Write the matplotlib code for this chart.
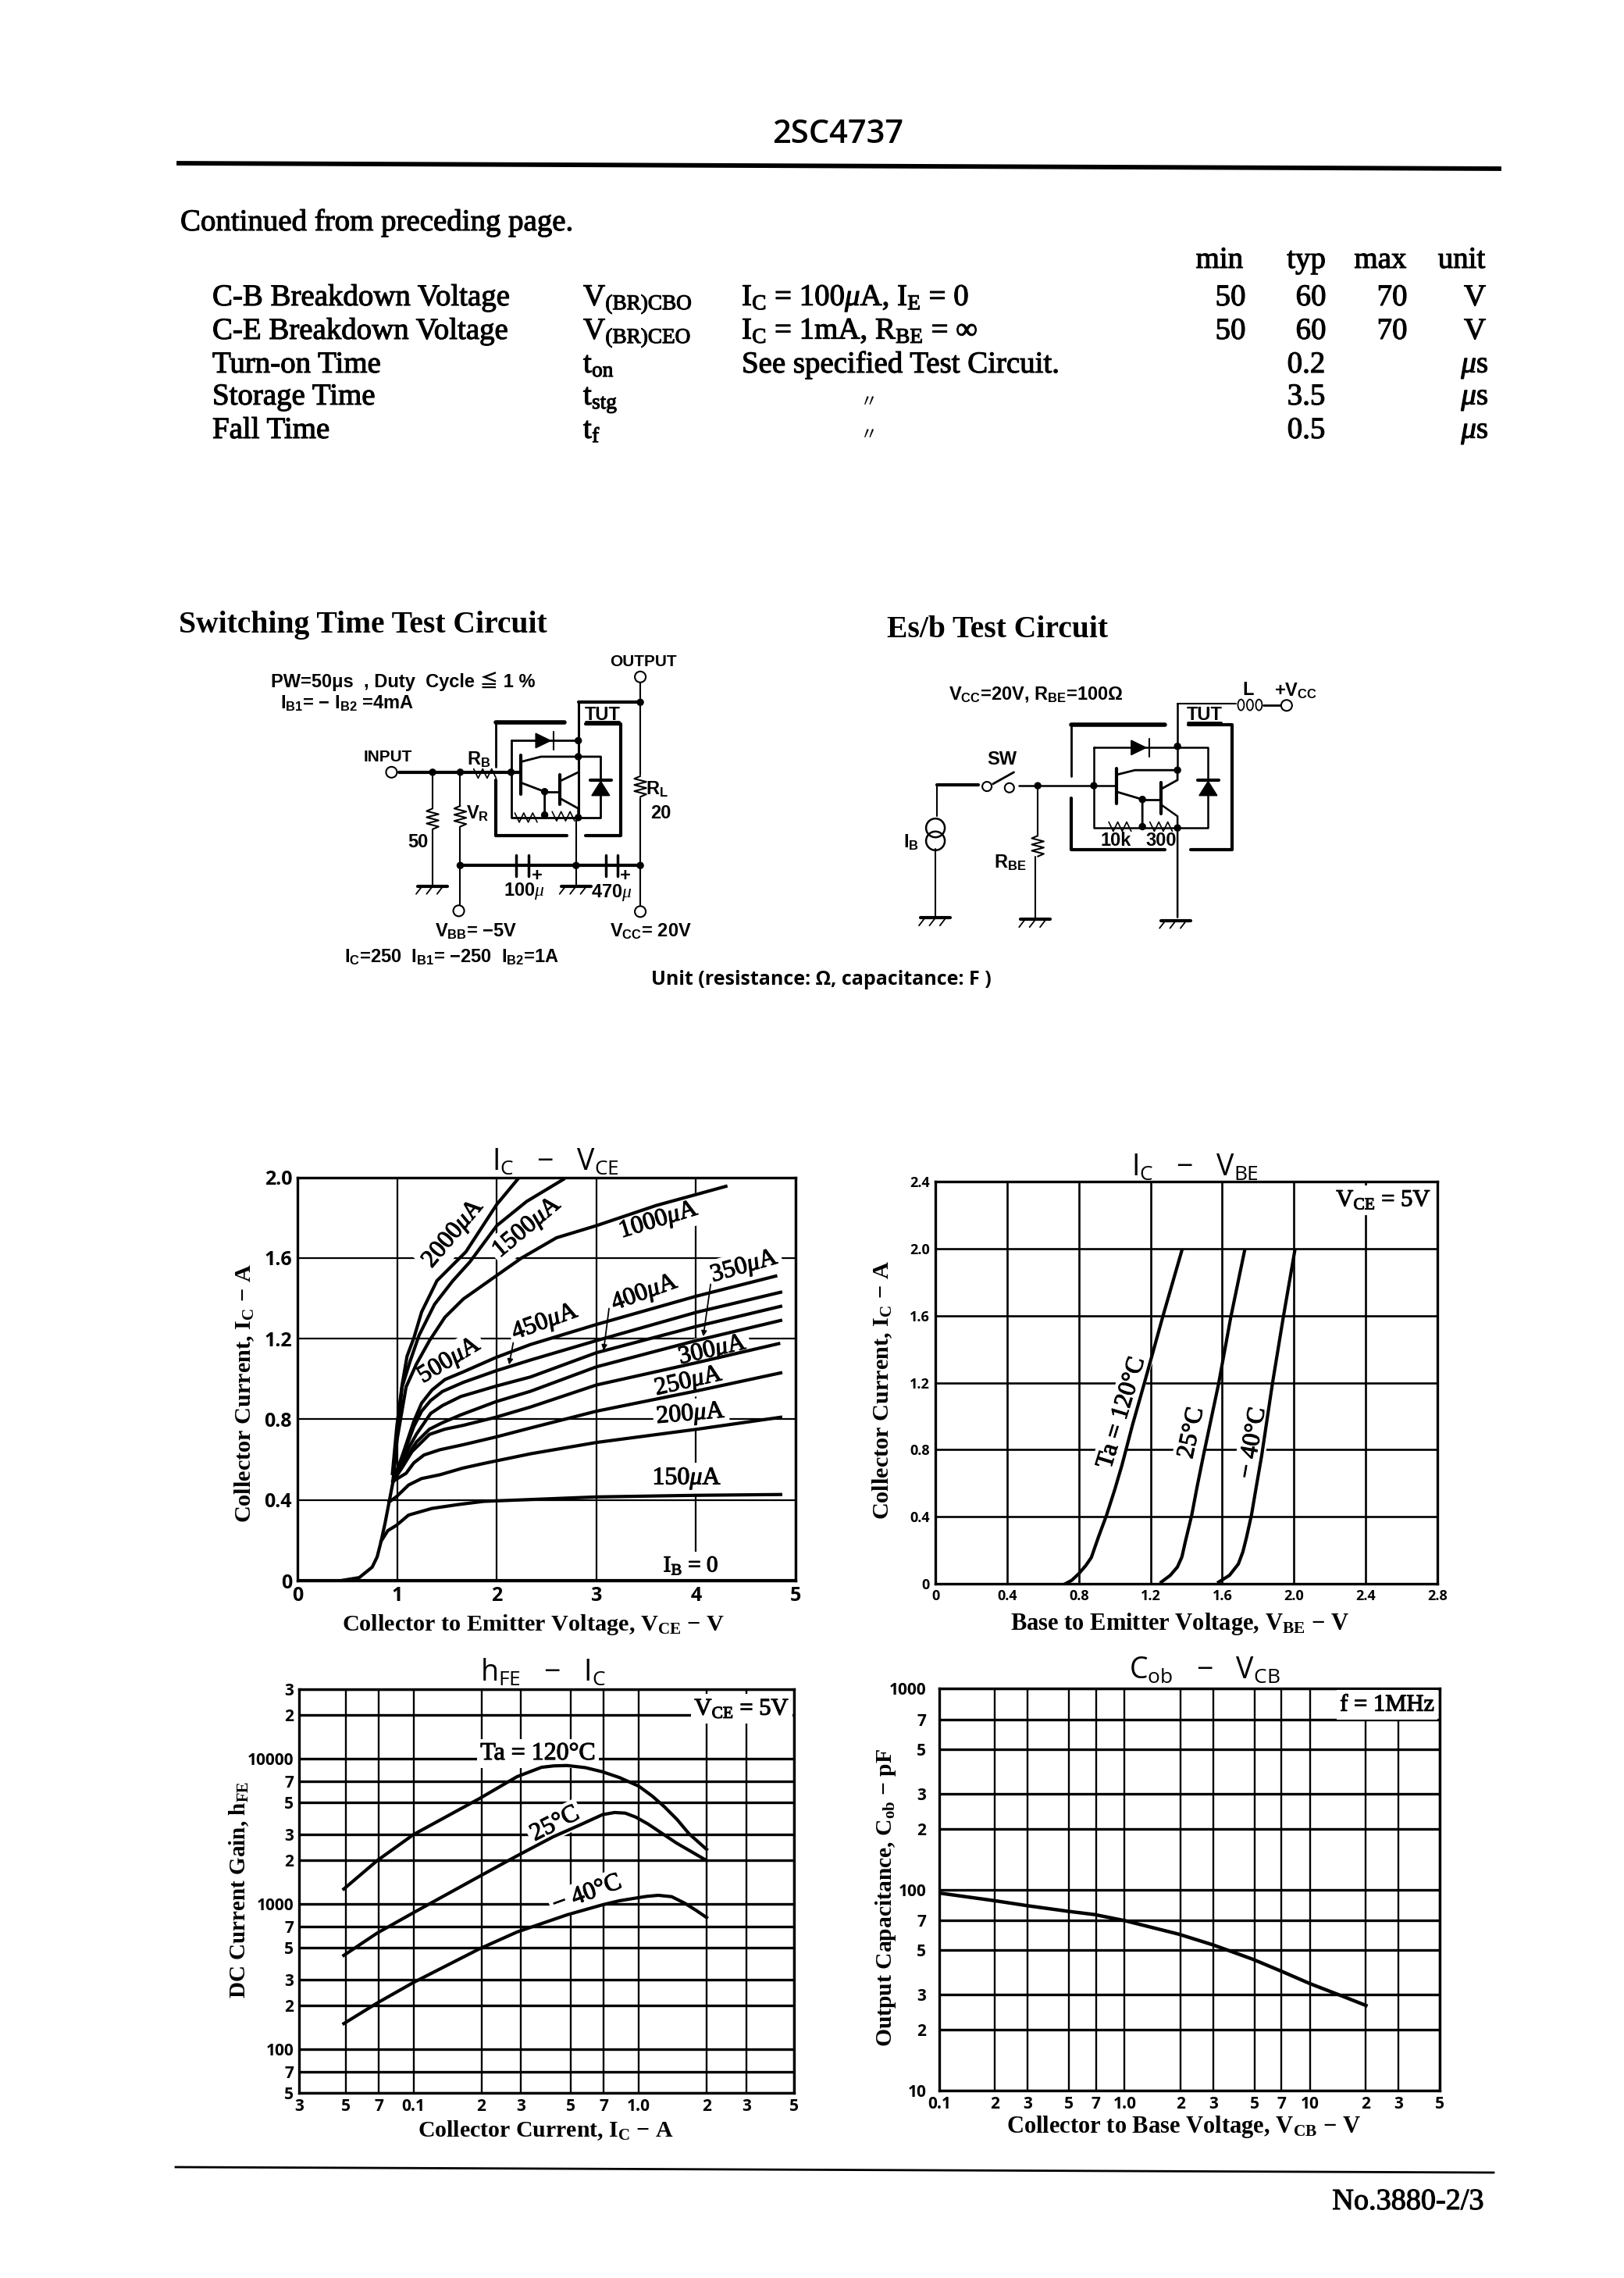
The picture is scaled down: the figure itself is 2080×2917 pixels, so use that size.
import matplotlib
matplotlib.use("Agg")
import matplotlib.pyplot as plt
import matplotlib.patheffects as pe
from matplotlib.patches import Circle, Ellipse, Polygon

plt.rcParams['font.family'] = ['Liberation Serif', 'DejaVu Serif']
plt.rcParams['mathtext.fontset'] = 'custom'
plt.rcParams['mathtext.rm'] = 'Liberation Serif'
plt.rcParams['mathtext.it'] = 'Liberation Serif:italic'
plt.rcParams['mathtext.bf'] = 'Liberation Serif:bold'
plt.rcParams['mathtext.default'] = 'regular'

SANS = ['Liberation Sans Narrow', 'Liberation Sans', 'Noto Sans CJK SC', 'DejaVu Sans']
OPEN = ['Open Sans', 'DejaVu Sans']
MU = r'$\mathit{\mu}$'
HEAVY = [pe.withStroke(linewidth=0.8, foreground='black')]

# ---- spec table
table_heads = ['min', 'typ', 'max', 'unit']
table_names = ['C-B Breakdown Voltage', 'C-E Breakdown Voltage', 'Turn-on Time', 'Storage Time', 'Fall Time']
table_syms = ['V$_{(BR)CBO}$', 'V$_{(BR)CEO}$', 't$_{on}$', 't$_{stg}$', 't$_{f}$']
table_conds = ['I$_C$ = 100' + MU + 'A, I$_E$ = 0', 'I$_C$ = 1mA, R$_{BE}$ = ∞', 'See specified Test Circuit.', '', '']
table_min = ['50', '50', '', '', '']
table_typ = ['60', '60', '0.2', '3.5', '0.5']
table_max = ['70', '70', '', '', '']
table_unit = ['V', 'V', MU + 's', MU + 's', MU + 's']

# ---- Ic - Vce
vce_base = [0.46, 0.62, 0.75, 0.80, 0.84, 0.88, 0.92, 0.96]
ic_base = [0.002, 0.015, 0.067, 0.118, 0.196, 0.287, 0.39, 0.493]
vce_150 = [0.84, 0.907, 0.993, 1.115, 1.35, 1.61, 1.87, 3.0, 4.0, 4.85]
ic_150 = [0.196, 0.248, 0.274, 0.325, 0.358, 0.377, 0.393, 0.415, 0.423, 0.427]
vce_200 = [0.92, 0.993, 1.115, 1.245, 1.43, 1.66, 1.87, 2.34, 3.0, 4.0, 4.85]
ic_200 = [0.39, 0.416, 0.474, 0.506, 0.525, 0.558, 0.581, 0.629, 0.685, 0.75, 0.81]
vce_250 = [0.96, 1.09, 1.168, 1.27, 1.43, 1.664, 1.99, 2.34, 3.0, 4.0, 4.85]
ic_250 = [0.493, 0.532, 0.584, 0.623, 0.649, 0.674, 0.712, 0.757, 0.84, 0.94, 1.03]
vce_300 = [0.96, 1.05, 1.15, 1.325, 1.48, 1.664, 1.99, 2.34, 3.0, 4.0, 4.83]
ic_300 = [0.493, 0.56, 0.64, 0.725, 0.751, 0.77, 0.81, 0.861, 0.97, 1.08, 1.175]
vce_350 = [0.96, 1.05, 1.194, 1.325, 1.455, 1.64, 1.99, 2.34, 3.0, 4.0, 4.85]
ic_350 = [0.493, 0.58, 0.687, 0.751, 0.783, 0.822, 0.887, 0.939, 1.06, 1.19, 1.29]
vce_400 = [0.96, 1.05, 1.194, 1.337, 1.455, 1.64, 1.99, 2.34, 3.0, 4.0, 4.85]
ic_400 = [0.493, 0.6, 0.726, 0.829, 0.868, 0.913, 0.964, 1.01, 1.13, 1.26, 1.36]
vce_450 = [0.96, 1.06, 1.168, 1.246, 1.337, 1.455, 1.664, 1.99, 2.34, 3.0, 4.0, 4.85]
ic_450 = [0.493, 0.62, 0.764, 0.84, 0.893, 0.938, 0.983, 1.04, 1.094, 1.19, 1.33, 1.43]
vce_500 = [0.96, 1.063, 1.168, 1.246, 1.35, 1.48, 1.664, 1.99, 2.34, 3.0, 4.0, 4.8]
ic_500 = [0.493, 0.635, 0.79, 0.88, 0.945, 0.997, 1.035, 1.106, 1.171, 1.27, 1.41, 1.51]
vce_1000 = [0.96, 1.0, 1.09, 1.194, 1.325, 1.48, 1.664, 1.925, 2.25, 2.6, 3.0, 3.6, 4.3]
ic_1000 = [0.493, 0.7, 0.96, 1.074, 1.19, 1.306, 1.396, 1.487, 1.6, 1.70, 1.76, 1.86, 1.955]
vce_1500 = [0.96, 1.0, 1.05, 1.13, 1.22, 1.376, 1.56, 1.73, 2.0, 2.3, 2.67]
ic_1500 = [0.5, 0.72, 0.96, 1.087, 1.216, 1.37, 1.487, 1.58, 1.76, 1.88, 1.99]
vce_2000 = [0.953, 0.997, 1.05, 1.10, 1.168, 1.246, 1.40, 1.69, 2.0, 2.21]
ic_2000 = [0.531, 0.764, 0.97, 1.113, 1.203, 1.332, 1.487, 1.63, 1.865, 1.99]

# ---- Ic - Vbe
vbe_120 = [0.725, 0.76, 0.8, 0.84, 0.87, 0.91, 0.955, 1.0, 1.04, 1.1, 1.165, 1.27, 1.375]
icb_120 = [0.0, 0.02, 0.06, 0.11, 0.157, 0.28, 0.41, 0.56, 0.705, 0.95, 1.195, 1.6, 1.99]
vbe_25 = [1.26, 1.31, 1.35, 1.375, 1.395, 1.43, 1.46, 1.495, 1.58, 1.647, 1.725]
icb_25 = [0.01, 0.05, 0.10, 0.16, 0.255, 0.41, 0.58, 0.765, 1.195, 1.587, 1.99]
vbe_m40 = [1.58, 1.64, 1.69, 1.715, 1.735, 1.763, 1.79, 1.82, 1.88, 1.94, 2.005]
icb_m40 = [0.01, 0.05, 0.118, 0.19, 0.275, 0.41, 0.58, 0.765, 1.195, 1.587, 1.99]

# ---- hFE - Ic
ich_120 = [0.049, 0.069, 0.1, 0.196, 0.288, 0.37, 0.42, 0.48, 0.58, 0.69, 0.82, 1.0, 1.15, 1.3, 1.48, 1.67, 2.0]
hfe_120 = [1265, 1987, 3000, 5300, 7500, 8700, 8900, 8950, 8650, 8100, 7400, 6450, 5500, 4650, 3800, 3040, 2370]
ich_25 = [0.049, 0.069, 0.1, 0.196, 0.288, 0.416, 0.55, 0.69, 0.78, 0.87, 0.97, 1.1, 1.25, 1.47, 1.7, 2.0]
hfe_25 = [442, 630, 870, 1545, 2140, 2890, 3500, 4110, 4250, 4210, 3950, 3540, 3100, 2620, 2300, 1985]
ich_m40 = [0.049, 0.069, 0.1, 0.196, 0.288, 0.48, 0.69, 0.82, 0.95, 1.08, 1.22, 1.4, 1.6, 1.8, 2.0]
hfe_m40 = [150, 208, 288, 490, 640, 840, 985, 1050, 1090, 1125, 1145, 1120, 1010, 900, 805]

# ---- Cob - Vcb
vcb = [0.1, 0.198, 0.3, 0.49, 0.69, 1.0, 1.95, 3.0, 4.9, 7.1, 10, 14.9, 20]
cob = [96, 88, 83, 78, 75, 70, 60, 53, 45, 39, 34, 29.5, 26.5]

# ---- axis ticks
ic_ticks = [0, 0.4, 0.8, 1.2, 1.6, 2.0]
ic_ticklabels = ['0', '0.4', '0.8', '1.2', '1.6', '2.0']
vce_ticks = [0, 1, 2, 3, 4, 5]
vbe_ticks = [0, 0.4, 0.8, 1.2, 1.6, 2.0, 2.4, 2.8]
vbe_ticklabels = ['0', '0.4', '0.8', '1.2', '1.6', '2.0', '2.4', '2.8']
icb_ticks = [0, 0.4, 0.8, 1.2, 1.6, 2.0, 2.4]
icb_ticklabels = ['0', '0.4', '0.8', '1.2', '1.6', '2.0', '2.4']
hx_ticks = [0.031, 0.05, 0.07, 0.1, 0.2, 0.3, 0.5, 0.7, 1, 2, 3, 4.89]
hx_labels = ['3', '5', '7', '0.1', '2', '3', '5', '7', '1.0', '2', '3', '5']
hy_ticks = [50, 70, 100, 200, 300, 500, 700, 1000, 2000, 3000, 5000, 7000, 10000, 20000, 30000]
hy_labels = ['5', '7', '100', '2', '3', '5', '7', '1000', '2', '3', '5', '7', '10000', '2', '3']
cx_ticks = [0.1, 0.2, 0.3, 0.5, 0.7, 1, 2, 3, 5, 7, 10, 20, 30, 50]
cx_labels = ['0.1', '2', '3', '5', '7', '1.0', '2', '3', '5', '7', '10', '2', '3', '5']
cy_ticks = [10, 20, 30, 50, 70, 100, 200, 300, 500, 700, 1000]
cy_labels = ['10', '2', '3', '5', '7', '100', '2', '3', '5', '7', '1000']

W, H = 2080, 2917
fig = plt.figure(figsize=(W / 100, H / 100), dpi=100)
page = fig.add_axes([0, 0, 1, 1])
page.set_xlim(0, W)
page.set_ylim(H, 0)
page.axis('off')


def make_axes(left, right, top, bottom):
    ax = fig.add_axes([left / W, 1 - bottom / H, (right - left) / W, (bottom - top) / H])
    ax.set_axisbelow(True)
    for s in ax.spines.values():
        s.set_linewidth(2.4)
    ax.minorticks_off()
    return ax


def style_axes(ax, lw_v, lw_h, tick_size, ypad=5):
    ax.minorticks_off()
    ax.grid(True, axis='x', color='black', linewidth=lw_v)
    ax.grid(True, axis='y', color='black', linewidth=lw_h)
    ax.tick_params(axis='x', which='both', length=0, pad=5, labelsize=tick_size)
    ax.tick_params(axis='y', which='both', length=0, pad=ypad, labelsize=tick_size)
    for lab in ax.get_xticklabels() + ax.get_yticklabels():
        lab.set_fontweight('bold')
        lab.set_family(OPEN)


def ptext(x, y, s, size=28, ha='left', va='baseline', **kw):
    return page.text(x, y, s, fontsize=size, ha=ha, va=va, **kw)


def ttext(x, y, s, ha='left'):
    ptext(x, y, s, ha=ha, path_effects=HEAVY)


def atext(ax, x, y, s, size=23, rot=0):
    ax.text(x, y, s, fontsize=size, rotation=rot, rotation_mode='anchor', ha='center', va='center',
            zorder=3, path_effects=HEAVY, bbox=dict(facecolor='white', edgecolor='none', pad=3))


# ---- header and table
ptext(1073, 183, '2SC4737', size=30, ha='center', family=OPEN, fontweight='semibold')
page.plot([229, 1920], [209, 216], color='black', lw=4.2)
ttext(231, 295, 'Continued from preceding page.')
for name, x in zip(table_heads, [1562, 1673, 1768, 1872]):
    ttext(x, 343, name, ha='center')
row_y = [391, 434, 477, 518, 561]
for i, y in enumerate(row_y):
    ttext(272, y, table_names[i])
    ttext(747, y, table_syms[i])
    ttext(950, y, table_conds[i])
    ttext(1576, y, table_min[i], ha='center')
    ttext(1679 if i < 2 else 1673, y, table_typ[i], ha='center')
    ttext(1783, y, table_max[i], ha='center')
    ttext(1889, y, table_unit[i], ha='center')
ptext(1113, 521, '〃', size=16, ha='center', family=['Noto Sans CJK SC', 'DejaVu Sans'])
ptext(1113, 563, '〃', size=16, ha='center', family=['Noto Sans CJK SC', 'DejaVu Sans'])


# ---- test circuits, drawn in page coordinates
def zx(x):
    return 200 + x / 1.045


def zy(y):
    return 760 + y / 3.015


def wire(pts, lw=1.5):
    page.plot([zx(p[0]) for p in pts], [zy(p[1]) for p in pts], color='black', lw=lw,
              solid_capstyle='round', solid_joinstyle='round', zorder=2)


def node(x, y, r=4):
    page.add_patch(Circle((zx(x), zy(y)), r, color='black', zorder=3))


def term(x, y, r=7):
    page.add_patch(Circle((zx(x), zy(y)), r, facecolor='white', edgecolor='black', lw=1.5, zorder=3))


def ground(x, y):
    wire([(x - 20, y), (x + 20, y)], 3)
    for d in (-14, 0, 14):
        wire([(x + d, y), (x + d - 8, y + 30)], 1.3)


def vres(x, y, n=6):
    pts = [(x, y - 40)]
    for i in range(n):
        pts.append((x + (8 if i % 2 else -8), y - 30 + i * 12))
    pts.append((x, y + 40))
    wire(pts, 1.5)


def hres(x, y, n=6):
    pts = []
    for i in range(n):
        pts.append((x - 15 + i * 6, y + (18 if i % 2 else -18)))
    wire(pts, 1.2)


def diode_up(x, y):
    page.add_patch(Polygon([(zx(x - 12), zy(y + 30)), (zx(x + 12), zy(y + 30)), (zx(x), zy(y - 25))],
                           color='black', zorder=3))
    wire([(x - 14, y - 30), (x + 14, y - 30)], 3)


def diode_right(x, y):
    page.add_patch(Polygon([(zx(x - 10), zy(y - 28)), (zx(x - 10), zy(y + 28)), (zx(x + 10), zy(y))],
                           color='black', zorder=3))
    wire([(x + 14, y - 35), (x + 14, y + 35)], 1.5)


def cap(x, y):
    wire([(x - 8, y - 40), (x - 8, y + 40)], 2.5)
    wire([(x + 8, y - 40), (x + 8, y + 40)], 2.5)


def ctext(x, y, s, size=17, **kw):
    page.text(zx(x), zy(y), s, fontsize=size, ha='center', va='center', family=kw.pop('family', SANS),
              fontweight='bold', **kw)


ptext(229, 810, 'Switching Time Test Circuit', size=28.5, fontweight='bold')
ptext(1136, 816, 'Es/b Test Circuit', size=28.5, fontweight='bold')

# switching time circuit
wire([(648, 335), (648, 700)])
wire([(648, 790), (648, 1215)])
vres(648, 745)
term(648, 322)
term(648, 1228)
node(648, 420)
node(648, 1050)
wire([(565, 420), (648, 420)], 3)
wire([(565, 420), (565, 865)], 2.2)
wire([(562, 865), (562, 1125)], 1.5)
wire([(455, 498), (547, 498)], 4)
wire([(575, 505), (622, 505), (622, 935), (575, 935)], 3)
wire([(455, 498), (455, 670)], 2)
wire([(455, 720), (455, 935), (550, 935)], 3)
wire([(475, 568), (565, 568)], 2)
wire([(475, 568), (475, 865), (595, 865), (595, 630)], 2)
diode_right(518, 568)
diode_up(595, 750)
wire([(488, 625), (488, 775)], 3)
wire([(488, 650), (515, 630), (595, 630)], 2)
wire([(488, 730), (520, 765), (520, 865)], 2)
wire([(520, 765), (540, 765)], 2)
wire([(540, 700), (540, 815)], 3)
wire([(540, 725), (565, 690)], 2)
wire([(540, 790), (565, 830), (565, 865)], 2)
for x, y in [(565, 568), (565, 630), (520, 765), (520, 855), (565, 865), (475, 690), (370, 690), (407, 690),
             (407, 1050), (562, 1050)]:
    node(x, y)
hres(495, 865)
hres(545, 860)
term(315, 690)
wire([(325, 690), (488, 690)], 3)
hres(440, 695)
wire([(370, 690), (370, 830)])
wire([(370, 910), (370, 1125)])
vres(370, 870)
ground(370, 1130)
wire([(407, 690), (407, 820)])
wire([(407, 900), (407, 1215)])
vres(407, 860)
term(405, 1225)
wire([(407, 1050), (648, 1050)], 3)
cap(490, 1050)
cap(610, 1050)
ground(562, 1130)
ctext(597, 470, 'TUT')
wire([(575, 495), (620, 495)], 2)
ctext(652, 265, 'OUTPUT', size=15)
ctext(330, 340, 'PW=50μs  , Duty  Cycle ≦ 1 %')
ctext(255, 425, 'I$_{B1}$= − I$_{B2}$ =4mA')
ctext(310, 632, 'INPUT', size=15)
ctext(432, 640, 'R$_B$')
ctext(430, 850, 'V$_R$')
ctext(350, 960, '50')
ctext(670, 755, 'R$_L$')
ctext(675, 850, '20')
ctext(510, 1090, '+')
ctext(628, 1090, '+')
ctext(492, 1150, '100' + MU)
ctext(610, 1155, '470' + MU)
ctext(428, 1305, 'V$_{BB}$= −5V')
ctext(662, 1305, 'V$_{CC}$= 20V')
ctext(395, 1405, 'I$_C$=250  I$_{B1}$= −250  I$_{B2}$=1A')
ctext(890, 1490, 'Unit (resistance: Ω, capacitance: F )', size=18, family=OPEN)

# Es/b circuit
ctext(1177, 390, 'V$_{CC}$=20V, R$_{BE}$=100Ω')
ctext(1462, 372, 'L')
ctext(1525, 375, '+V$_{CC}$')
wire([(1367, 425), (1445, 425)])
for x in (1452, 1464, 1476):
    page.add_patch(Ellipse((zx(x), zy(430)), 8, 14, facecolor='none', edgecolor='black', lw=1.3))
wire([(1482, 432), (1505, 432)], 2)
term(1513, 432)
wire([(1367, 425), (1367, 682)], 1.8)
ctext(1403, 470, 'TUT')
wire([(1380, 497), (1425, 497)], 2)
wire([(1225, 508), (1350, 508)], 4)
wire([(1382, 508), (1440, 508), (1440, 990), (1385, 990)], 3)
wire([(1225, 508), (1225, 705)], 2)
wire([(1225, 790), (1225, 990), (1350, 990)], 3)
wire([(1255, 595), (1408, 595), (1408, 905), (1255, 905), (1255, 595)], 1.8)
diode_right(1315, 595)
diode_up(1408, 750)
wire([(1285, 675), (1285, 810)], 3)
wire([(1285, 700), (1310, 682), (1367, 682)], 2)
wire([(1285, 765), (1320, 795), (1320, 905)], 2)
wire([(1320, 795), (1345, 795)], 2)
wire([(1345, 730), (1345, 850)], 3)
wire([(1345, 755), (1367, 720), (1367, 682)], 2)
wire([(1345, 815), (1367, 860), (1367, 1250)], 1.8)
for x, y in [(1367, 590), (1367, 682), (1320, 795), (1320, 900), (1367, 905), (1180, 742), (1255, 742)]:
    node(x, y)
hres(1290, 900)
hres(1345, 900)
wire([(1155, 742), (1285, 742)], 1.8)
term(1112, 745, 6)
term(1142, 750, 6)
wire([(1120, 735), (1148, 690)], 2)
ctext(1132, 640, 'SW')
wire([(1045, 738), (1100, 738)], 3)
wire([(1045, 738), (1045, 860)], 1.5)
page.add_patch(Ellipse((zx(1043), zy(905)), 24, 24, facecolor='none', edgecolor='black', lw=1.8))
page.add_patch(Ellipse((zx(1043), zy(955)), 24, 24, facecolor='none', edgecolor='black', lw=1.8))
wire([(1043, 985), (1043, 1250)])
ctext(1010, 960, 'I$_B$')
ground(1043, 1252)
ground(1177, 1258)
ground(1365, 1262)
wire([(1180, 742), (1180, 935)])
wire([(1177, 1015), (1177, 1250)])
vres(1180, 975)
ctext(1143, 1040, 'R$_{BE}$')
ctext(1285, 955, '10k')
ctext(1345, 955, '300')

# ---- Ic - Vce chart
ax1 = make_axes(381, 1019, 1507.5, 2024)
ax1.set_xlim(0, 5)
ax1.set_ylim(0, 2.0)
ax1.set_xticks(vce_ticks)
ax1.set_yticks(ic_ticks, ic_ticklabels)
style_axes(ax1, 1.6, 1.6, 18)
for xs, ys in [(vce_base, ic_base), (vce_150, ic_150), (vce_200, ic_200), (vce_250, ic_250), (vce_300, ic_300),
               (vce_350, ic_350), (vce_400, ic_400), (vce_450, ic_450), (vce_500, ic_500), (vce_1000, ic_1000),
               (vce_1500, ic_1500), (vce_2000, ic_2000)]:
    ax1.plot(xs, ys, color='black', lw=3.0, zorder=4)
ax1.plot([0, 5], [0, 0], color='black', lw=3, zorder=4)
atext(ax1, 1.57, 1.72, '2000' + MU + 'A', rot=50)
atext(ax1, 2.31, 1.75, '1500' + MU + 'A', rot=40)
atext(ax1, 3.63, 1.785, '1000' + MU + 'A', rot=17)
atext(ax1, 4.49, 1.555, '350' + MU + 'A', rot=16)
atext(ax1, 3.49, 1.425, '400' + MU + 'A', rot=20)
atext(ax1, 2.49, 1.28, '450' + MU + 'A', rot=20)
atext(ax1, 1.53, 1.09, '500' + MU + 'A', rot=31)
atext(ax1, 4.17, 1.14, '300' + MU + 'A', rot=13)
atext(ax1, 3.93, 0.985, '250' + MU + 'A', rot=13)
atext(ax1, 3.95, 0.823, '200' + MU + 'A', rot=5)
atext(ax1, 3.91, 0.505, '150' + MU + 'A')
atext(ax1, 3.95, 0.073, 'I$_B$ = 0', size=21)
for tail, tip in [((2.17, 1.19), (2.12, 1.06)), ((3.13, 1.36), (3.07, 1.13)), ((4.15, 1.48), (4.07, 1.20))]:
    ax1.annotate('', xy=tip, xytext=tail, zorder=5, arrowprops=dict(arrowstyle='-|>', color='black', lw=1.3))

# ---- Ic - Vbe chart
ax2 = make_axes(1198, 1841, 1513, 2028)
ax2.set_xlim(0, 2.8)
ax2.set_ylim(0, 2.4)
ax2.set_xticks(vbe_ticks, vbe_ticklabels)
ax2.set_yticks(icb_ticks, icb_ticklabels)
style_axes(ax2, 1.9, 1.9, 13)
ax2.plot(vbe_120, icb_120, color='black', lw=3.0, zorder=4)
ax2.plot(vbe_25, icb_25, color='black', lw=3.0, zorder=4)
ax2.plot(vbe_m40, icb_m40, color='black', lw=3.0, zorder=4)
atext(ax2, 1.04, 1.02, 'Ta = 120°C', rot=73)
atext(ax2, 1.43, 0.90, '25°C', rot=78)
atext(ax2, 1.77, 0.84, '− 40°C', rot=80)
atext(ax2, 2.5, 2.29, 'V$_{CE}$ = 5V', size=22)

# ---- hFE - Ic chart
ax3 = make_axes(383, 1017, 2163, 2680)
ax3.set_xscale('log')
ax3.set_yscale('log')
ax3.set_xlim(0.031, 4.89)
ax3.set_ylim(50, 30000)
ax3.set_xticks(hx_ticks, hx_labels)
ax3.set_yticks(hy_ticks, hy_labels)
style_axes(ax3, 1.7, 2.4, 15)
ax3.plot(ich_120, hfe_120, color='black', lw=3.0, zorder=4)
ax3.plot(ich_25, hfe_25, color='black', lw=3.0, zorder=4)
ax3.plot(ich_m40, hfe_m40, color='black', lw=3.0, zorder=4)
atext(ax3, 0.357, 10800, 'Ta = 120°C')
atext(ax3, 0.425, 3535, '25°C', rot=27)
atext(ax3, 0.59, 1170, '− 40°C', rot=20)
atext(ax3, 2.87, 22000, 'V$_{CE}$ = 5V', size=22)

# ---- Cob - Vcb chart
ax4 = make_axes(1203, 1844, 2162, 2677)
ax4.set_xscale('log')
ax4.set_yscale('log')
ax4.set_xlim(0.1, 50)
ax4.set_ylim(10, 1000)
ax4.set_xticks(cx_ticks, cx_labels)
ax4.set_yticks(cy_ticks, cy_labels)
style_axes(ax4, 1.7, 2.4, 15, ypad=12)
ax4.plot(vcb, cob, color='black', lw=3.2, zorder=4)
atext(ax4, 26, 827, 'f = 1MHz', size=22)

# ---- chart titles and axis labels
ptext(711, 1489, 'I$_C$   −   V$_{CE}$', size=27, ha='center', va='center', family=OPEN)
ptext(1531, 1496, 'I$_C$   −   V$_{BE}$', size=27, ha='center', va='center', family=OPEN)
ptext(696, 2142, 'h$_{FE}$   −   I$_C$', size=27, ha='center', va='center', family=OPEN)
ptext(1543, 2140, 'C$_{ob}$   −   V$_{CB}$', size=27, ha='center', va='center', family=OPEN)

ptext(683, 2081, 'Collector to Emitter Voltage, V$_{CE}$ − V', size=21.8, ha='center', va='center', fontweight='bold')
ptext(1511, 2079, 'Base to Emitter Voltage, V$_{BE}$ − V', size=22, ha='center', va='center', fontweight='bold')
ptext(699, 2728, 'Collector Current, I$_C$ − A', size=21.5, ha='center', va='center', fontweight='bold')
ptext(1516, 2724, 'Collector to Base Voltage, V$_{CB}$ − V', size=22, ha='center', va='center', fontweight='bold')

ptext(313, 1784, 'Collector Current, I$_C$ − A', size=21.8, ha='center', va='center', rotation=90, fontweight='bold')
ptext(1130, 1780, 'Collector Current, I$_C$ − A', size=21.8, ha='center', va='center', rotation=90, fontweight='bold')
ptext(306, 2420, 'DC Current Gain, h$_{FE}$', size=21, ha='center', va='center', rotation=90, fontweight='bold')
ptext(1135, 2430, 'Output Capacitance, C$_{ob}$ − pF', size=21.3, ha='center', va='center', rotation=90, fontweight='bold')

# ---- footer
page.plot([225, 1913], [2775, 2782], color='black', lw=2)
ptext(1901, 2829, 'No.3880-2/3', size=27.5, ha='right', path_effects=HEAVY)

fig.savefig('out.png', dpi=100)
